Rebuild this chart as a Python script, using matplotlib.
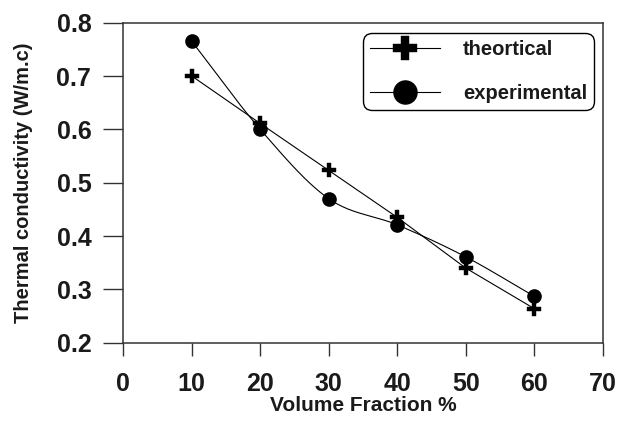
import numpy as np
import matplotlib
matplotlib.use("Agg")
import matplotlib.pyplot as plt
from matplotlib.lines import Line2D

# Data
volume_fraction = [10, 20, 30, 40, 50, 60]
theoretical = [0.700, 0.611, 0.523, 0.435, 0.340, 0.264]
experimental = [0.765, 0.600, 0.470, 0.421, 0.361, 0.287]
x_ticks = [0, 10, 20, 30, 40, 50, 60, 70]
y_ticks = [0.2, 0.3, 0.4, 0.5, 0.6, 0.7, 0.8]

plt.rcParams['font.family'] = ['Liberation Sans', 'DejaVu Sans']
plt.rcParams['font.weight'] = 'bold'


def catmull_rom(x, y, n=40):
    """Smooth curve through the given points (uniform Catmull-Rom)."""
    pts = np.column_stack([x, y]).astype(float)
    P = np.vstack([2 * pts[0] - pts[1], pts, 2 * pts[-1] - pts[-2]])
    t = np.linspace(0, 1, n)[:, None]
    segs = []
    for i in range(1, len(P) - 2):
        p0, p1, p2, p3 = P[i - 1], P[i], P[i + 1], P[i + 2]
        c = 0.5 * (2 * p1 + (-p0 + p2) * t
                   + (2 * p0 - 5 * p1 + 4 * p2 - p3) * t ** 2
                   + (-p0 + 3 * p1 - 3 * p2 + p3) * t ** 3)
        segs.append(c if i == 1 else c[1:])
    c = np.vstack(segs)
    return c[:, 0], c[:, 1]


fig = plt.figure(figsize=(6.33, 4.24), dpi=100)
ax = fig.add_axes([0.1948, 0.1917, 0.7573, 0.7548])

line_kw = dict(color='black', lw=0.8)

# theoretical: straight segments with filled plus markers
ax.plot(volume_fraction, theoretical, **line_kw, zorder=2)
ax.plot(volume_fraction, theoretical, linestyle='none', marker='P',
        ms=9.5, color='black', mec='black', mew=0.3, zorder=3)

# experimental: smoothed line with filled circles
sx, sy = catmull_rom(volume_fraction, experimental)
ax.plot(sx, sy, **line_kw, zorder=2)
ax.plot(volume_fraction, experimental, linestyle='none', marker='o',
        ms=9.5, color='black', zorder=3)

ax.set_xlim(0, 70)
ax.set_ylim(0.2, 0.8)
ax.set_xticks(x_ticks)
ax.set_yticks(y_ticks)
ax.set_xticklabels([str(v) for v in x_ticks])
ax.set_yticklabels([f"{v:.1f}" for v in y_ticks])

spine_color = '#333333'
for s in ax.spines.values():
    s.set_color(spine_color)
    s.set_linewidth(1.1)

ax.tick_params(axis='x', direction='out', length=9.4, width=1.0,
               color=spine_color, pad=12, labelsize=18)
ax.tick_params(axis='y', direction='out', length=14.4, width=1.0,
               color=spine_color, pad=8.6, labelsize=18)
for lab in ax.get_xticklabels() + ax.get_yticklabels():
    lab.set_fontweight('bold')
    lab.set_color('#1a1a1a')

ax.set_xlabel('Volume Fraction %', fontsize=15, fontweight='bold',
              color='#1a1a1a', va='top')
ax.xaxis.set_label_coords(0.5, -0.167)
ax.set_ylabel('Thermal conductivity (W/m.c)', fontsize=14.5,
              fontweight='bold', color='#1a1a1a')
ax.yaxis.set_label_coords(-0.188, 0.5)

handles = [
    Line2D([], [], color='black', lw=0.8, marker='P', ms=9.5, mew=0.3),
    Line2D([], [], color='black', lw=0.8, marker='o', ms=9.5),
]
leg = ax.legend(handles, ['theortical', 'experimental'],
                loc='upper right', bbox_to_anchor=(0.9818, 0.9678),
                borderaxespad=0, fancybox=True, framealpha=1,
                edgecolor='black', handlelength=3.45, handletextpad=1.15,
                labelspacing=1.22, borderpad=0.35, markerscale=1.75,
                prop={'size': 14.5, 'weight': 'bold'})
leg.get_frame().set_linewidth(1.0)
leg.get_frame().set_boxstyle('round', pad=0, rounding_size=0.45)
for t in leg.get_texts():
    t.set_color('#1a1a1a')

fig.savefig('out.png', dpi=100)
